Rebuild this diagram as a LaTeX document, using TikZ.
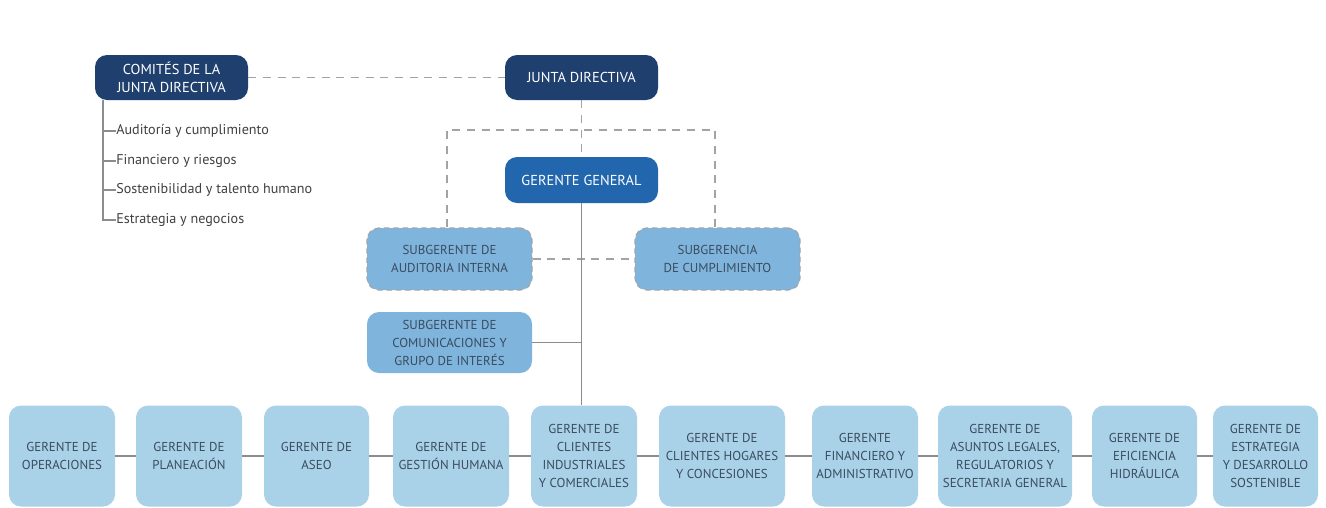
\documentclass[tikz,border=0pt]{standalone}
\usepackage{fontspec}
\setmainfont{PT Sans}
\definecolor{navy}{HTML}{1F3F6E}
\definecolor{gblue}{HTML}{2266AE}
\definecolor{mblue}{HTML}{7FB5DD}
\definecolor{lblue}{HTML}{A9D2E9}
\definecolor{ltext}{HTML}{3A4B5E}
\definecolor{lgray}{HTML}{8C8C8C}
\begin{document}
\begin{tikzpicture}[x=0.75pt,y=-0.75pt,
  box/.style={rounded corners=9pt, align=center, inner sep=0pt,
    font=\fontsize{9.7}{13.5}\selectfont},
  dark/.style={box, fill=navy, text=white, font=\fontsize{10.8}{13.5}\selectfont},
  gen/.style={box, fill=gblue, text=white, font=\fontsize{10.8}{13.5}\selectfont},
  sub/.style={box, fill=mblue, text=ltext},
  subd/.style={sub, draw=lgray!80, dashed, dash pattern=on 4pt off 3pt, line width=0.9pt},
  low/.style={box, fill=lblue, text=ltext},
  solidln/.style={draw=lgray, line width=1pt},
  dashln/.style={draw=lgray!80, line width=1pt, dash pattern=on 6pt off 5pt},
  item/.style={anchor=west, inner sep=0pt, text=black!75, font=\fontsize{10.6}{12}\selectfont}
]
\useasboundingbox (0,0) rectangle (1326,507);
\fill[white] (0,0) rectangle (1326,507);

% top
\node[dark, minimum width=153*0.75pt, minimum height=45*0.75pt] (com) at (171.5,77.5) {COMITÉS DE LA\\JUNTA DIRECTIVA};
\node[dark, minimum width=153*0.75pt, minimum height=45*0.75pt] (jd) at (581.5,77.5) {JUNTA DIRECTIVA};
\node[gen, minimum width=153*0.75pt, minimum height=46*0.75pt] (gg) at (581.5,180) {GERENTE GENERAL};
\node[subd, minimum width=165*0.75pt, minimum height=62*0.75pt] (aud) at (449.5,259) {SUBGERENTE DE\\AUDITORIA INTERNA};
\node[subd, minimum width=165*0.75pt, minimum height=62*0.75pt] (cum) at (717.5,259) {SUBGERENCIA\\DE CUMPLIMIENTO};
\node[sub, minimum width=165*0.75pt, minimum height=61*0.75pt] (cmu) at (449.5,342.5) {SUBGERENTE DE\\COMUNICACIONES Y\\GRUPO DE INTERÉS};

% committee list
\coordinate (l0) at (103,100);
\coordinate (l1) at (103,131);
\coordinate (l2) at (103,161);
\coordinate (l3) at (103,190);
\coordinate (l4) at (103,220);
\node[item] (i1) at (116,131) {Auditoría y cumplimiento};
\node[item] (i2) at (116,161) {Financiero y riesgos};
\node[item] (i3) at (116,190) {Sostenibilidad y talento humano};
\node[item] (i4) at (116,220) {Estrategia y negocios};
\draw[solidln] (l0) -- (l4) -- (i4.west);
\draw[solidln] (l1) -- (i1.west);
\draw[solidln] (l2) -- (i2.west);
\draw[solidln] (l3) -- (i3.west);

% bottom row
\foreach \n/\cx/\w/\t in {
  b1/62/106/{GERENTE DE\\OPERACIONES},
  b2/189/106/{GERENTE DE\\PLANEACIÓN},
  b3/316.5/105/{GERENTE DE\\ASEO},
  b4/451/116/{GERENTE DE\\GESTIÓN HUMANA},
  b5/584/106/{GERENTE DE\\CLIENTES\\INDUSTRIALES\\Y COMERCIALES},
  b6/722/126/{GERENTE DE\\CLIENTES HOGARES\\Y CONCESIONES},
  b7/865/106/{GERENTE\\FINANCIERO Y\\ADMINISTRATIVO},
  b8/1005/134/{GERENTE DE\\ASUNTOS LEGALES,\\REGULATORIOS Y\\SECRETARIA GENERAL},
  b9/1144.5/105/{GERENTE DE\\EFICIENCIA\\HIDRÁULICA},
  b10/1265.5/105/{GERENTE DE\\ESTRATEGIA\\Y DESARROLLO\\SOSTENIBLE}}
{\node[low, minimum width=\w*0.75pt, minimum height=101*0.75pt] (\n) at (\cx,456) {\t};}

\foreach \a/\b in {b1/b2,b2/b3,b3/b4,b4/b5,b5/b6,b6/b7,b7/b8,b8/b9,b9/b10}
  \draw[solidln] (\a.east) -- (\b.west);

% dashed connections
\coordinate (dl) at (447,130);
\coordinate (dr) at (715,130);
\draw[dashln] (com.east) -- (jd.west);
\draw[dashln] (jd.south) -- (gg.north);
\draw[dashln] (aud.north -| dl) -- (dl) -- (dr) -- (cum.north -| dr);
\draw[dashln] (aud.east) -- (cum.west);

% solid connections
\draw[solidln] (gg.south) -- (b5.north -| gg.south);
\draw[solidln] (cmu.east) -- (cmu.east -| gg.south);
\end{tikzpicture}
\end{document}
